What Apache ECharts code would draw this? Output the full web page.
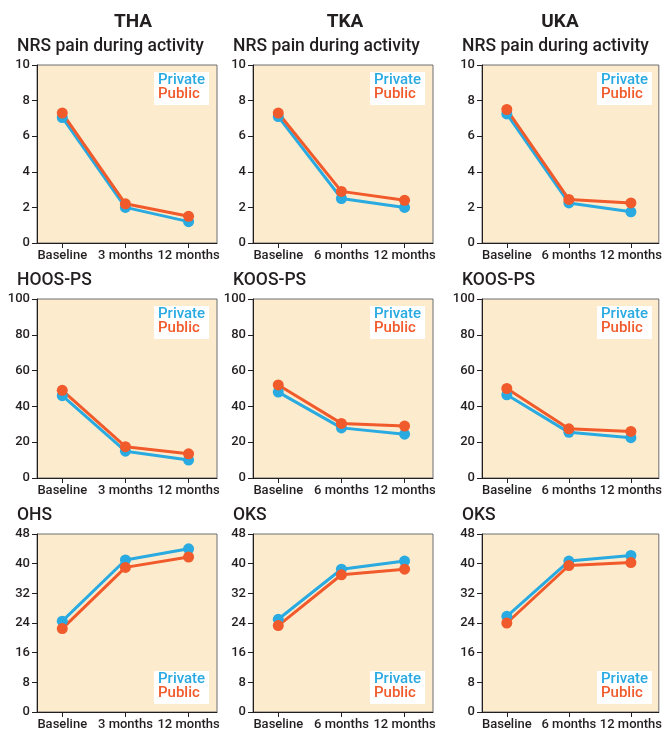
<!DOCTYPE html>
<html><head><meta charset="utf-8">
<script src="https://cdn.jsdelivr.net/npm/echarts@6/dist/echarts.min.js"></script>
<style>html,body{margin:0;padding:0;background:#fff}#c{width:665px;height:732px}</style>
</head><body><div id="c"></div>
<script>
// ---- data ----
const colTitles = ['THA', 'TKA', 'UKA'];
const catsHip = ['Baseline', '3 months', '12 months'];
const catsKnee = ['Baseline', '6 months', '12 months'];
const rowTitles = [
  ['NRS pain during activity', 'NRS pain during activity', 'NRS pain during activity'],
  ['HOOS-PS', 'KOOS-PS', 'KOOS-PS'],
  ['OHS', 'OKS', 'OKS']
];
const yMax = [10, 100, 48];
const yStep = [2, 20, 8];

const nrsThaPrivate = [7.05, 2.0, 1.2];
const nrsThaPublic  = [7.3, 2.2, 1.5];
const nrsTkaPrivate = [7.1, 2.5, 2.0];
const nrsTkaPublic  = [7.3, 2.9, 2.4];
const nrsUkaPrivate = [7.25, 2.25, 1.75];
const nrsUkaPublic  = [7.5, 2.45, 2.25];

const hoosThaPrivate = [46, 15, 10];
const hoosThaPublic  = [49, 17.5, 13.5];
const koosTkaPrivate = [48, 28, 24.5];
const koosTkaPublic  = [52, 30.5, 29];
const koosUkaPrivate = [46.5, 25.5, 22.5];
const koosUkaPublic  = [50, 27.5, 26];

const ohsThaPrivate = [24.5, 41, 44];
const ohsThaPublic  = [22.5, 39, 41.8];
const oksTkaPrivate = [25, 38.5, 40.7];
const oksTkaPublic  = [23.3, 37, 38.5];
const oksUkaPrivate = [25.8, 40.7, 42.2];
const oksUkaPublic  = [24, 39.5, 40.3];

const privateVals = [
  [nrsThaPrivate, nrsTkaPrivate, nrsUkaPrivate],
  [hoosThaPrivate, koosTkaPrivate, koosUkaPrivate],
  [ohsThaPrivate, oksTkaPrivate, oksUkaPrivate]
];
const publicVals = [
  [nrsThaPublic, nrsTkaPublic, nrsUkaPublic],
  [hoosThaPublic, koosTkaPublic, koosUkaPublic],
  [ohsThaPublic, oksTkaPublic, oksUkaPublic]
];

// ---- layout / style ----
const BLUE = '#29aae1', RED = '#f15a2b', BG = '#fdebcd', TXT = '#231f20';
const FONT = 'Roboto, Liberation Sans, Arial, sans-serif';
const colLeft = [37, 253, 482];
const colW = [180, 180, 178];
const rowTop = [65, 299, 534];
const rowH = [178, 179, 178];

const grids = [], xAxes = [], yAxes = [], series = [], graphics = [];
let gi = 0;
for (let r = 0; r < 3; r++) {
  for (let c = 0; c < 3; c++) {
    const cats = c === 0 ? catsHip : catsKnee;
    grids.push({left: colLeft[c], top: rowTop[r], width: colW[c], height: rowH[r],
      show: true, backgroundColor: BG, borderColor: '#6d6e71', borderWidth: 1});
    xAxes.push({type: 'value', gridIndex: gi, min: -0.4, max: 2.45,
      axisLine: {show: true, onZero: false, lineStyle: {color: '#231f20', width: 1}},
      axisTick: {show: true, length: 5, lineStyle: {color: '#231f20'}, customValues: [0, 1, 2]},
      axisLabel: {customValues: [0, 1, 2], color: TXT, fontSize: 13, fontWeight: 500, fontFamily: FONT, margin: 6,
        formatter: (v) => cats[Math.round(v)] || ''},
      splitLine: {show: false}});
    yAxes.push({type: 'value', gridIndex: gi, min: 0, max: yMax[r], interval: yStep[r],
      axisLine: {show: true, onZero: false, lineStyle: {color: '#231f20', width: 1}},
      axisTick: {show: true, length: 5, lineStyle: {color: '#231f20'}},
      axisLabel: {color: TXT, fontSize: 13, fontWeight: 500, fontFamily: FONT, margin: 7},
      splitLine: {show: false}});
    const mk = (name, vals, color) => ({
      name, type: 'line', xAxisIndex: gi, yAxisIndex: gi,
      data: vals.map((v, i) => [i, v]),
      symbol: 'circle', symbolSize: 11,
      lineStyle: {color, width: 3}, itemStyle: {color},
      emphasis: {disabled: true}, animation: false
    });
    series.push(mk('Private', privateVals[r][c], BLUE));
    series.push(mk('Public', publicVals[r][c], RED));
    // subtitle
    graphics.push({type: 'text', left: colLeft[c] - 20, top: rowTop[r] - 27,
      style: {text: rowTitles[r][c], fill: TXT, font: '500 17.5px ' + FONT}});
    // legend box
    const boxW = 55, boxH = 33;
    const bx = colLeft[c] + colW[c] - 8 - boxW;
    const by = r < 2 ? rowTop[r] + 7 : rowTop[r] + rowH[r] - 8 - boxH;
    graphics.push({type: 'rect', left: bx, top: by, shape: {width: boxW, height: boxH}, style: {fill: '#fff'}, z: 10});
    graphics.push({type: 'text', left: bx + 4, top: by + 1, z: 11,
      style: {text: 'Private', fill: BLUE, font: '500 15px ' + FONT}});
    graphics.push({type: 'text', left: bx + 4, top: by + 15, z: 11,
      style: {text: 'Public', fill: RED, font: '500 15px ' + FONT}});
    gi++;
  }
}
const titleCenters = [133, 345, 560];
for (let c = 0; c < 3; c++) {
  graphics.push({type: 'text', x: titleCenters[c], y: 13,
    style: {text: colTitles[c], fill: TXT, font: 'bold 19px ' + FONT, textAlign: 'center'}});
}

const chart = echarts.init(document.getElementById('c'), null, {renderer: 'canvas'});
chart.setOption({
  animation: false,
  grid: grids, xAxis: xAxes, yAxis: yAxes, series,
  graphic: graphics
});
</script></body></html>
